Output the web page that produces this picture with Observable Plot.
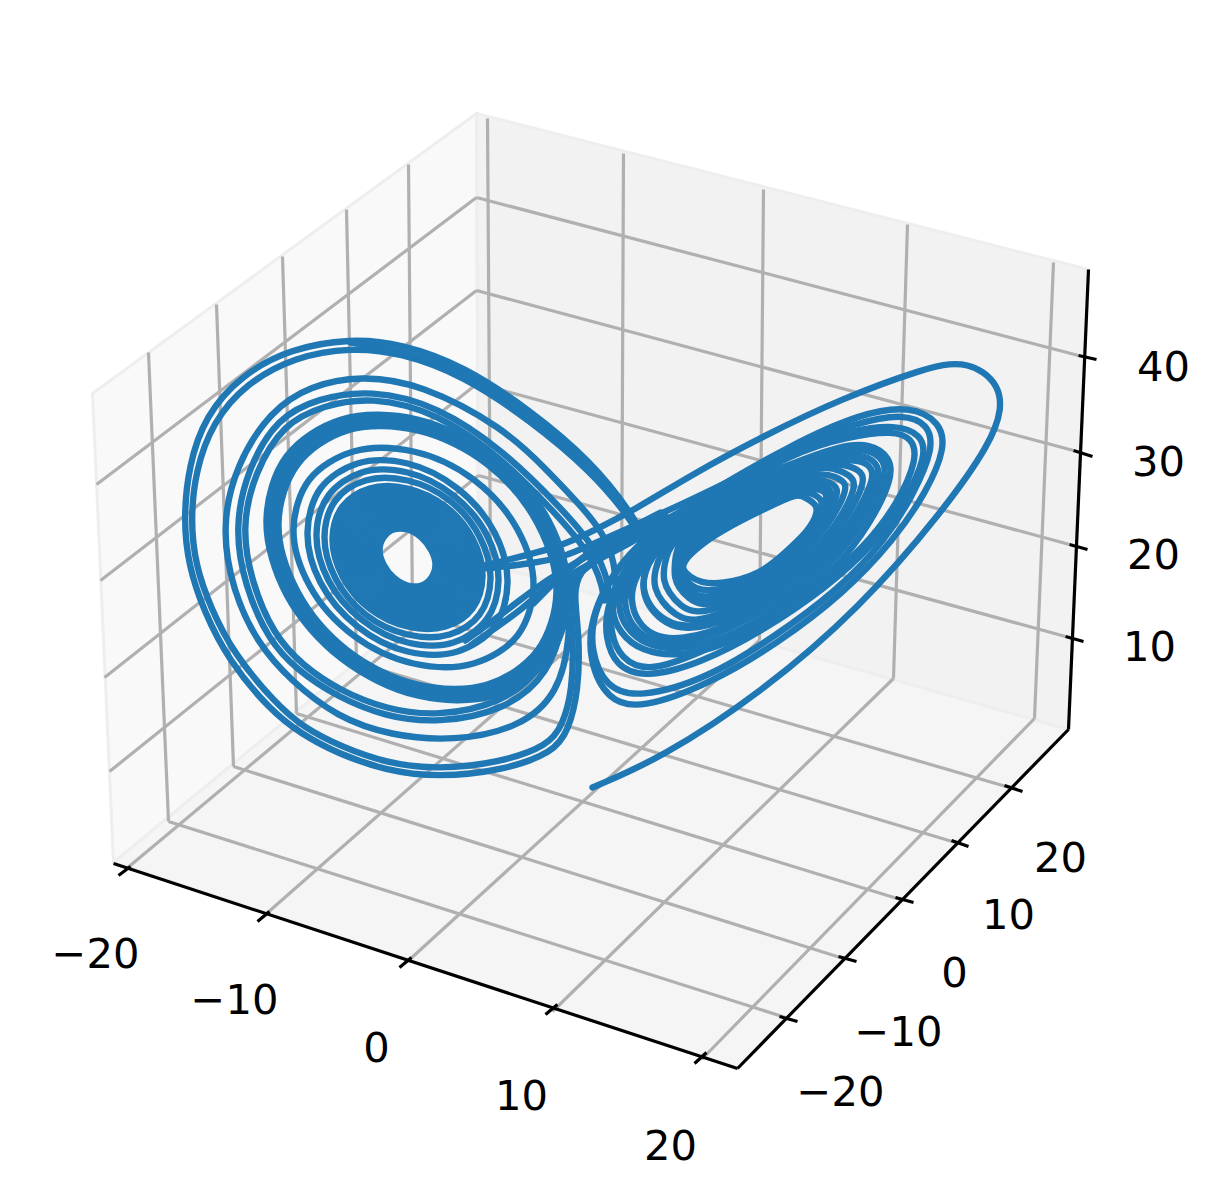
<!DOCTYPE html>
<html><head><meta charset="utf-8">
<style>html,body{margin:0;padding:0;background:#fff}svg{display:block}</style>
<script src="https://cdn.jsdelivr.net/npm/d3@7"></script>
<script src="https://cdn.jsdelivr.net/npm/@observablehq/plot@0.6"></script>
</head><body><div id="chart"></div>
<script>
const paneLeft  = [[113,862],[92,393],[476,113],[478,561]];
const paneRight = [[476,113],[1088,269],[1068,729],[478,561]];
const paneFloor = [[113,862],[478,561],[1068,729],[737,1068]];

const gridLeftVertical  = [[148,352,168,821],[216,304,233,766],[282,256,296,713],[346,209,356,662],[408,164,412,613]];
const gridLeftLevels    = [[96,484,476,197],[100,580,476,290],[104,677,477,383],[109,771,478,475]];
const gridRightVertical = [[487,118,490,564],[623,153,621,601],[763,189,759,640],[907,224,893,678],[1053,262,1034,718]];
const gridRightLevels   = [[476,197,1078,355],[476,290,1073,450],[477,383,1069,544],[478,475,1065,636]];
const gridFloorX        = [[125,869,490,564],[265,914,621,601],[407,961,759,640],[552,1011,893,678],[701,1059,1034,718]];
const gridFloorY        = [[168,821,785,1017],[233,766,843,958],[296,713,900,899],[356,662,955,842],[412,613,1009,787]];

const axisLines = [[113,863,737,1068],[737,1068,1068,729],[1068,729,1088,269]];
const ticksX = [[118,875,130,866],[257,921,269,911],[399,967,411,957],[545,1014,557,1004],[694,1063,706,1052]];
const ticksY = [[779,1016,797,1021],[838,956,856,961],[895,897,913,902],[951,840,968,846],[1004,785,1022,791]];
const ticksZ = [[1065,636,1083,641],[1069,544,1087,549],[1073,450,1092,456],[1078,355,1096,359]];

const labelsX = [["−20",95,954],["−10",234,1000],["0",376,1048],["10",521,1096],["20",670,1146]];
const labelsY = [["−20",840,1092],["−10",898,1032],["0",954,973],["10",1008,915],["20",1060,858]];
const labelsZ = [["10",1149,647],["20",1153,555],["30",1158,462],["40",1163,367]];

// Left wing, closed turns from the hole outward
const leftTurns = [
 [[435,564],[431,577],[421,585],[407,585],[393,577],[383,564],[379,550],[383,537],[393,529],[407,529],[421,537],[431,550]],
 [[440,566],[436,580],[424,589],[407,589],[390,580],[378,566],[374,548],[378,534],[390,525],[407,525],[424,534],[436,548]],
 [[445,567],[440,583],[426,593],[407,593],[388,583],[374,567],[369,547],[374,531],[388,521],[407,521],[426,531],[440,547]],
 [[450,568],[444,586],[429,597],[407,597],[385,586],[370,568],[364,546],[370,528],[385,517],[407,517],[429,528],[444,546]],
 [[454,569],[448,589],[431,600],[407,600],[383,589],[366,569],[360,545],[366,525],[383,514],[407,514],[431,525],[448,545]],
 [[459,570],[452,592],[433,604],[407,604],[381,592],[362,570],[355,544],[362,522],[381,510],[407,510],[433,522],[452,544]],
 [[463,571],[455,595],[435,609],[407,609],[379,595],[359,571],[351,543],[359,519],[379,505],[407,505],[435,519],[455,543]],
 [[468,572],[460,598],[437,613],[407,613],[377,598],[354,572],[346,542],[354,516],[377,501],[407,501],[437,516],[460,542]],
 [[473,573],[464,601],[440,617],[407,617],[374,601],[350,573],[341,541],[350,513],[374,497],[407,497],[440,513],[464,541]],
 [[477,574],[468,604],[442,622],[407,622],[372,604],[346,574],[337,540],[346,510],[372,492],[407,492],[442,510],[468,540]],
 [[482,576],[472,608],[445,626],[407,626],[369,608],[342,576],[332,538],[342,506],[369,488],[407,488],[445,506],[472,538]],
 [[490,578],[479,614],[449,634],[407,634],[365,614],[335,578],[324,536],[335,500],[365,480],[407,480],[449,500],[479,536]],
 [[498,580],[486,619],[453,642],[407,642],[361,619],[328,580],[316,534],[328,495],[361,472],[407,472],[453,495],[486,534]],
 [[507,582],[494,626],[457,651],[407,651],[357,626],[320,582],[307,532],[320,488],[357,463],[407,463],[457,488],[494,532]],
 [[533,585],[517,635],[473,663],[413,663],[353,635],[309,585],[293,529],[309,479],[353,451],[413,451],[473,479],[517,529]],
 [[556,591],[537,650],[487,684],[417,684],[347,650],[297,591],[278,523],[297,464],[347,430],[417,430],[487,464],[537,523]],
 [[560,592],[541,652],[489,687],[417,687],[345,652],[293,592],[274,522],[293,462],[345,427],[417,427],[489,462],[541,522]],
 [[564,593],[544,655],[491,691],[417,691],[343,655],[290,593],[270,521],[290,459],[343,423],[417,423],[491,459],[544,521]],
 [[568,594],[548,657],[493,695],[417,695],[341,658],[286,594],[266,520],[286,456],[341,419],[417,419],[493,456],[548,520]]
];
// Right wing, closed turns from the hole outward
const rightTurns = [
 [[805,497],[818,505],[815,518],[806,532],[786,551],[760,574],[720,584],[700,582],[689,576],[683,570],[682,565],[686,558],[693,551],[714,533],[785,498],[798,494]],
 [[814,494],[823,500],[819,513],[809,530],[789,549],[760,576],[720,590],[700,590],[690,585],[684,577],[681,570],[682,560],[686,550],[713,532],[789,495],[806,491]],
 [[823,490],[827,495],[823,508],[812,527],[792,547],[760,577],[720,595],[700,597],[691,591],[684,583],[680,574],[680,563],[682,550],[712,532],[793,492],[813,488]],
 [[825,488],[830,494],[826,506],[815,526],[794,548],[762,579],[721,599],[700,601],[689,594],[681,585],[677,575],[677,564],[679,544],[712,530],[793,490],[814,486]],
 [[827,487],[832,492],[828,503],[817,525],[795,548],[763,580],[722,602],[700,605],[688,598],[678,587],[674,577],[674,565],[677,537],[711,529],[793,487],[815,483]],
 [[830,482],[838,488],[835,500],[822,525],[798,550],[767,583],[723,607],[695,613],[680,606],[668,592],[663,580],[663,567],[670,538],[709,526],[793,483],[817,478]],
 [[835,476],[847,483],[843,497],[828,525],[803,553],[772,585],[725,612],[693,622],[675,615],[661,601],[654,588],[653,572],[665,540],[708,522],[793,480],[820,472]],
 [[840,470],[855,478],[853,493],[837,523],[810,555],[773,587],[727,617],[688,628],[665,621],[650,607],[643,592],[642,573],[660,542],[707,518],[793,476],[823,465]],
 [[850,465],[864,473],[862,488],[843,524],[814,558],[775,590],[728,621],[685,630],[665,623],[650,609],[643,594],[642,574],[658,542],[707,515],[793,474],[828,462]],
 [[860,459],[873,468],[872,483],[850,525],[818,560],[777,593],[730,626],[680,640],[652,636],[636,620],[630,600],[633,578],[657,543],[707,513],[793,472],[833,460]],
 [[865,454],[879,465],[878,482],[857,525],[823,563],[782,597],[730,630],[678,646],[647,640],[630,624],[623,604],[627,580],[653,545],[706,509],[793,468],[837,455]],
 [[868,448],[885,460],[885,480],[863,523],[830,565],[787,600],[735,635],[680,651],[643,644],[625,627],[617,607],[621,582],[650,547],[705,505],[793,465],[838,450]],
 [[870,443],[890,457],[892,478],[870,523],[837,567],[793,602],[740,639],[683,657],[640,651],[619,632],[610,610],[616,583],[647,547],[703,500],[793,462],[840,445]],
 [[893,430],[912,438],[917,458],[898,502],[864,547],[816,588],[757,625],[698,653],[648,672],[620,658],[610,633],[610,603],[635,550],[700,507],[793,451],[848,436]],
 [[895,424],[921,434],[926,455],[906,498],[873,545],[826,587],[763,630],[700,663],[643,678],[615,665],[605,638],[605,605],[633,550],[698,505],[793,447],[851,430]],
 [[903,413],[928,424],[933,448],[914,492],[885,540],[837,590],[773,637],[707,678],[638,698],[605,687],[590,650],[592,610],[625,552],[693,502],[793,445],[857,422]],
 [[910,405],[940,422],[945,447],[927,490],[893,540],[843,593],[777,643],[710,683],[640,709],[607,700],[588,660],[590,613],[623,553],[693,500],[793,443],[860,413]]
];
// Open strokes of the trajectory
const openStrokes = [
 [[592,787],[660,758],[760,693],[860,607],[943,510],[990,443],[1002,407],[997,385],[983,371],[967,364],[950,363],[927,367],[843,397],[760,437],[693,473],[633,510],[593,530],[560,547],[483,565]],
 [[700,500],[650,528],[603,550],[578,572],[573,593],[579,637],[578,690],[568,730],[553,752],[503,770],[437,777],[385,770],[337,753],[300,733],[270,710],[228,660],[203,610],[188,565],[183,520],[188,465],[205,415],[240,375],[290,348],[350,338],[400,343],[463,365],[530,410],[590,460],[633,515],[645,540],[638,565],[630,590]],
 [[700,505],[650,532],[603,553],[575,575],[567,593],[573,637],[572,690],[562,725],[548,745],[500,762],[437,769],[387,763],[340,746],[303,727],[275,703],[233,653],[210,607],[195,565],[190,520],[195,470],[212,422],[245,383],[295,356],[350,347],[400,352],[463,375],[530,420],[590,470],[630,518],[645,545],[635,570],[627,595]],
 [[350,342],[400,350],[463,370],[530,415],[590,465],[632,517]],
 [[690,510],[640,535],[600,557],[575,575],[568,587],[570,637],[558,693],[520,727],[453,741],[390,735],[337,717],[290,680],[257,643],[232,590],[221,527],[235,465],[270,410],[310,385],[360,375],[420,383],[503,427],[545,468],[582,507],[603,533],[615,563],[615,595]],
 [[680,515],[630,540],[595,560],[573,573],[567,583],[564,620],[549,673],[505,710],[437,723],[384,716],[336,696],[297,670],[268,640],[244,585],[234,527],[247,468],[277,417],[317,398],[370,389],[437,405],[503,450],[560,507],[590,541],[606,573],[610,600]],
 [[670,520],[625,545],[590,563],[568,575],[561,583],[558,618],[543,669],[501,703],[437,716],[386,709],[339,690],[302,665],[273,634],[251,582],[241,527],[254,472],[283,423],[323,405],[370,396],[437,412],[501,457],[555,513],[584,546],[600,577],[604,600]],
 [[487,568],[530,563],[560,558],[600,540],[650,518],[700,495],[760,465]],
 [[470,645],[494,628],[520,610],[550,583],[590,550],[625,530],[660,512]],
 [[465,640],[490,622],[515,603],[545,580],[590,553],[630,535],[665,515]],
 [[533,603],[565,570],[600,545],[640,525]]
];

const toRows = (list) => list.flatMap((pts, id) => pts.map(([px, py]) => ({px, py, id})));
const toLinks = (list) => list.map(([x1, y1, x2, y2]) => ({x1, y1, x2, y2}));
const gridAll = toLinks([...gridLeftVertical, ...gridLeftLevels, ...gridRightVertical, ...gridRightLevels, ...gridFloorX, ...gridFloorY]);
const axisAll = toLinks([...axisLines, ...ticksX, ...ticksY, ...ticksZ]);
const labels = [...labelsX, ...labelsY, ...labelsZ].map(([t, px, py]) => ({t, px, py}));
const pane = (pts, fill) => Plot.line([...pts, pts[0]], {x: d => d[0], y: d => d[1], fill, stroke: "#eeeeee", strokeWidth: 3, curve: "linear-closed"});
const link = (data, stroke) => Plot.link(data, {x1: "x1", y1: "y1", x2: "x2", y2: "y2", stroke, strokeWidth: 3.2, strokeLinecap: "butt"});
const blue = "#1f77b4", lw = 6.4;

const chart = Plot.plot({
  width: 1219, height: 1198, margin: 0,
  style: {background: "#fff", fontFamily: "DejaVu Sans"},
  x: {domain: [0, 1219], range: [0, 1219], axis: null},
  y: {domain: [0, 1198], range: [0, 1198], axis: null},
  marks: [
    pane(paneLeft, "#f9f9f9"), pane(paneRight, "#f2f2f2"), pane(paneFloor, "#f5f5f5"),
    link(gridAll, "#b0b0b0"),
    link(axisAll, "#000"),
    Plot.line(toRows(openStrokes), {x: "px", y: "py", z: "id", stroke: blue, strokeWidth: lw, curve: "basis"}),
    Plot.line(toRows(leftTurns), {x: "px", y: "py", z: "id", stroke: blue, strokeWidth: lw, curve: "catmull-rom-closed"}),
    Plot.line(toRows(rightTurns), {x: "px", y: "py", z: "id", stroke: blue, strokeWidth: lw, curve: "basis-closed"}),
    Plot.text(labels, {x: "px", y: "py", text: "t", fontSize: 41.67, fill: "#000", textAnchor: "middle", lineAnchor: "middle", fontFamily: "DejaVu Sans"})
  ]
});
document.getElementById("chart").appendChild(chart);
</script></body></html>
